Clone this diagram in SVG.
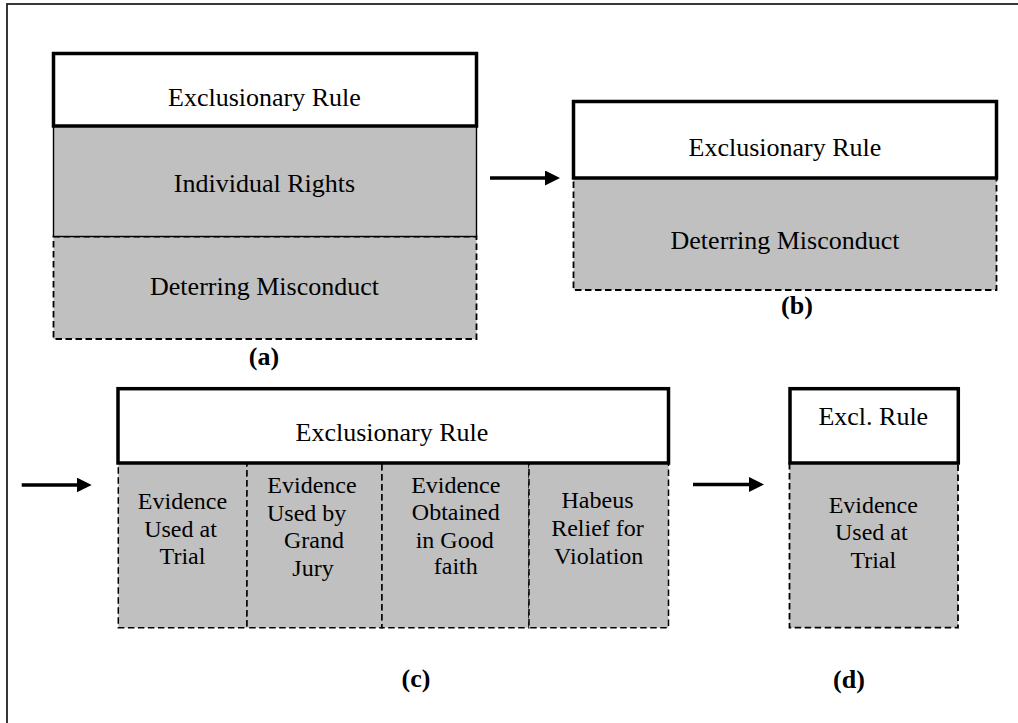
<svg xmlns="http://www.w3.org/2000/svg" width="1018" height="723" viewBox="0 0 1018 723">
  <defs>
    <style>
      .txt { font-family: "Liberation Serif", "Times New Roman", serif; fill: #000; text-anchor: middle; }
      .t26 { font-size: 26px; }
      .t24 { font-size: 24px; }
      .lbl { font-size: 26px; font-weight: bold; }
      .head { fill: #fff; stroke: #000; stroke-width: 3.5; }
      .solid { fill: #c0c0c0; stroke: #000; stroke-width: 1.4; }
      .dash { fill: #c0c0c0; stroke: #000; stroke-width: 1.8; stroke-dasharray: 6.5 3.5; }
      .cdash { fill: #c0c0c0; stroke: #000; stroke-width: 1.5; stroke-dasharray: 6.5 3.5; }
      .arrow { stroke: #000; stroke-width: 3.5; fill: none; marker-end: url(#ah); }
      .frame { fill: none; stroke: #222; stroke-width: 1.8; }
    </style>
    <marker id="ah" viewBox="0 0 15 15" refX="3" refY="7.5" markerWidth="15" markerHeight="15" markerUnits="userSpaceOnUse" orient="auto">
      <path d="M0,0 L15,7.5 L0,15 z" fill="#000"/>
    </marker>
  </defs>

  <rect width="1018" height="723" fill="#fff"/>
  <rect class="frame" x="7" y="4" width="1030" height="740"/>

  <!-- Panel (a) -->
  <g id="a-deterring">
    <rect class="dash" x="53.5" y="236.5" width="423" height="102.5"/>
    <text class="txt t26" x="264.5" y="295">Deterring Misconduct</text>
  </g>
  <g id="a-rights">
    <rect class="solid" x="53.5" y="126" width="423" height="110.5"/>
    <text class="txt t26" x="264.5" y="192">Individual Rights</text>
  </g>
  <g id="a-rule">
    <rect class="head" x="53.5" y="53.5" width="423" height="72.5"/>
    <text class="txt t26" x="264.5" y="105.5">Exclusionary Rule</text>
  </g>
  <g id="label-a">
    <text class="txt lbl" x="264" y="365">(a)</text>
  </g>

  <!-- Panel (b) -->
  <g id="b-deterring">
    <rect class="dash" x="573.5" y="178" width="423" height="112"/>
    <text class="txt t26" x="785" y="248.5">Deterring Misconduct</text>
  </g>
  <g id="b-rule">
    <rect class="head" x="573.5" y="101.5" width="423" height="76.5"/>
    <text class="txt t26" x="785" y="155.5">Exclusionary Rule</text>
  </g>
  <g id="label-b">
    <text class="txt lbl" x="797" y="314">(b)</text>
  </g>

  <!-- Panel (c) -->
  <g id="c-trial">
    <rect class="cdash" x="118.3" y="459" width="128.7" height="168.7"/>
    <text class="txt t24" x="182.5" y="509.3">Evidence</text>
    <text class="txt t24" x="180.5" y="536.7">Used at</text>
    <text class="txt t24" x="182.5" y="564.3">Trial</text>
  </g>
  <g id="c-grandjury">
    <rect class="cdash" x="247" y="459" width="135" height="168.7"/>
    <text class="txt t24" x="312" y="493.3">Evidence</text>
    <text class="txt t24" x="306.7" y="520.7">Used by</text>
    <text class="txt t24" x="314" y="548.3">Grand</text>
    <text class="txt t24" x="313" y="575.7">Jury</text>
  </g>
  <g id="c-goodfaith">
    <rect class="cdash" x="382" y="459" width="147" height="168.7"/>
    <text class="txt t24" x="455.8" y="493.3">Evidence</text>
    <text class="txt t24" x="455.8" y="520">Obtained</text>
    <text class="txt t24" x="454.7" y="547.7">in Good</text>
    <text class="txt t24" x="455.8" y="574">faith</text>
  </g>
  <g id="c-habeus">
    <rect class="cdash" x="529" y="459" width="139.5" height="168.7"/>
    <text class="txt t24" x="597.5" y="508.3">Habeus</text>
    <text class="txt t24" x="597.5" y="535.7">Relief for</text>
    <text class="txt t24" x="598.7" y="564.3">Violation</text>
  </g>
  <g id="c-rule">
    <rect class="head" x="118" y="388.7" width="550.5" height="74.3"/>
    <text class="txt t26" x="392" y="440.7">Exclusionary Rule</text>
  </g>
  <g id="label-c">
    <text class="txt lbl" x="416" y="687">(c)</text>
  </g>

  <!-- Panel (d) -->
  <g id="d-trial">
    <rect class="dash" x="789.5" y="463" width="168.5" height="164.7"/>
    <text class="txt t24" x="873.3" y="512.7">Evidence</text>
    <text class="txt t24" x="871.3" y="540">Used at</text>
    <text class="txt t24" x="873.3" y="567.7">Trial</text>
  </g>
  <g id="d-rule">
    <rect class="head" x="790" y="388.7" width="168.3" height="74.3"/>
    <text class="txt t26" x="873.3" y="425">Excl. Rule</text>
  </g>
  <g id="label-d">
    <text class="txt lbl" x="849" y="688">(d)</text>
  </g>

  <!-- Connectors -->
  <g id="connectors">
    <line class="arrow" x1="490" y1="178" x2="548" y2="178"/>
    <line class="arrow" x1="21.7" y1="485" x2="79.7" y2="485"/>
    <line class="arrow" x1="693" y1="484.5" x2="752" y2="484.5"/>
  </g>
</svg>
